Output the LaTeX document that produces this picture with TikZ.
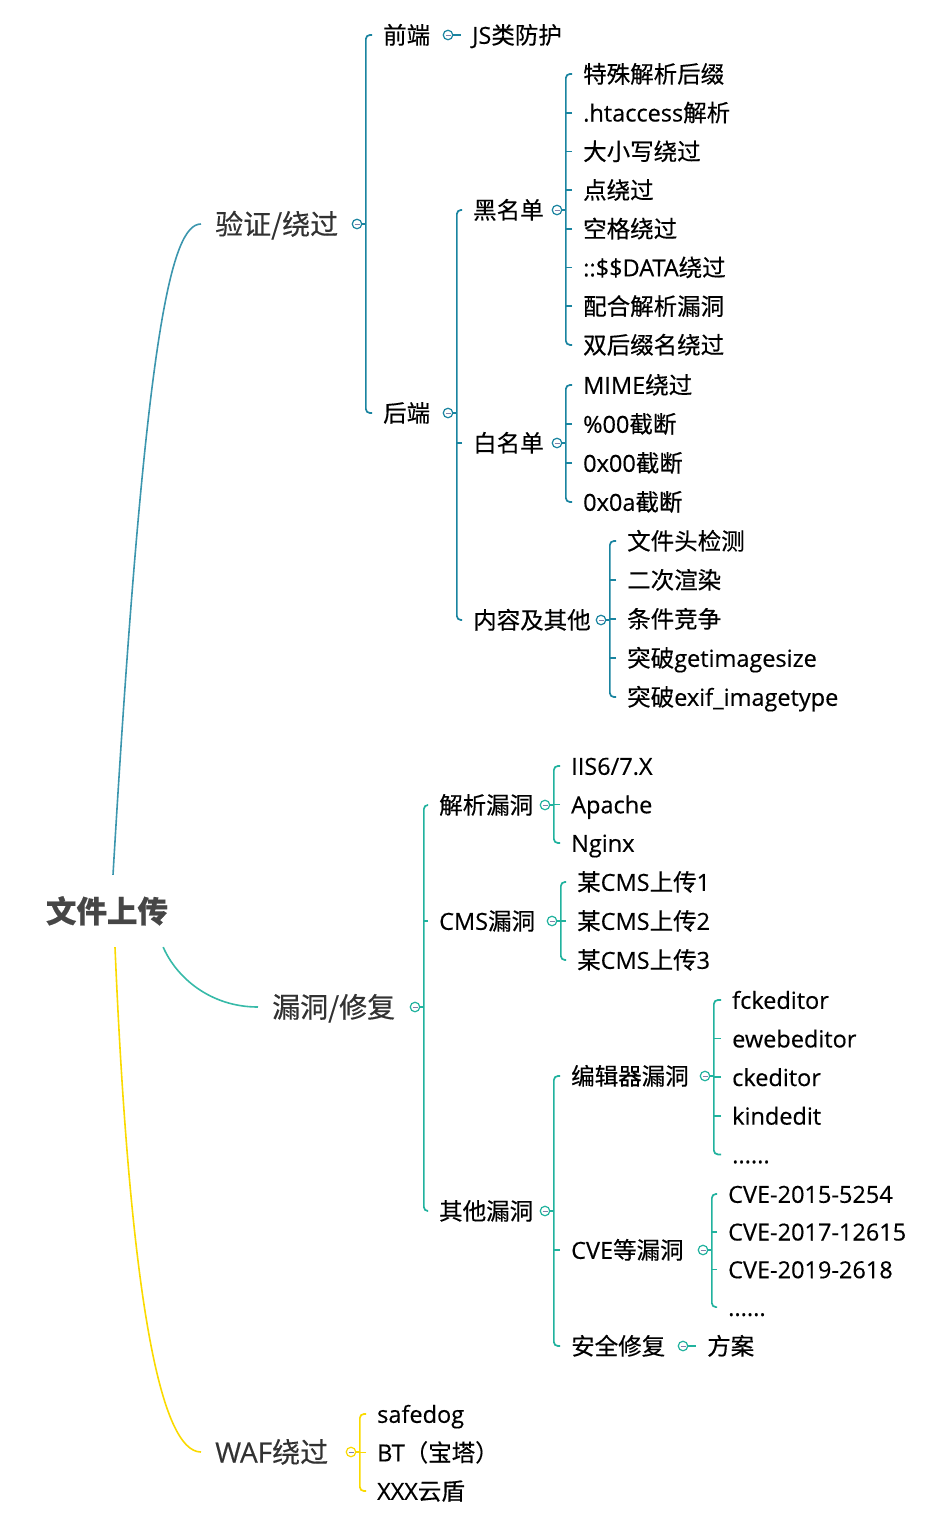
\documentclass[tikz,border=0pt]{standalone}
\usepackage{fontspec}
\setmainfont{Noto Sans CJK SC}[FakeBold=0.4]
\newfontfamily\enfont{Open Sans}[FakeBold=0.4]
\newcommand\eng[1]{{\enfont #1}}
\usepackage{xcolor}
\usepackage{tikz}

\definecolor{blueline}{RGB}{26,132,160}
\definecolor{tealline}{RGB}{33,178,158}
\definecolor{yellowline}{RGB}{250,218,0}
\definecolor{topicgray}{RGB}{50,50,50}
\definecolor{rootgray}{RGB}{70,70,70}
\definecolor{knobminus}{RGB}{128,128,170}

\tikzset{
  topic/.style={anchor=west, inner xsep=14pt, inner ysep=0pt, text height=25pt, text depth=4pt,
    font=\fontsize{28}{33}\selectfont, text=topicgray},
  leaf/.style={anchor=west, inner xsep=11pt, inner ysep=0pt, text height=21pt, text depth=3.4pt,
    font=\fontsize{23.5}{28}\selectfont, text=black},
  knob/.style={circle, draw=#1, fill=white, line width=1.2pt, minimum size=9.5pt, inner sep=0pt,
    path picture={\draw[knobminus, line width=1pt] ([xshift=-2.5pt]path picture bounding box.center) -- ([xshift=2.5pt]path picture bounding box.center);}},
  br/.style={draw=#1, line width=1.7pt, rounded corners=4pt},
  curve/.style={draw=#1, line width=1.6pt},
}

\begin{document}
\begin{tikzpicture}[x=1pt,y=-1pt]
\useasboundingbox (0,0) rectangle (935,1526);

\node[font=\fontsize{30.5}{36}\selectfont\bfseries, text=rootgray, inner xsep=0pt, inner ysep=20pt,
  text height=27.5pt, text depth=4.3pt] (root) at (107,911) {文件上传};
\node[topic] (t1) at (201,224) {验证/绕过};
\node[topic] (t2) at (258,1007) {漏洞/修复};
\node[topic] (t3) at (201,1452) {\eng{WAF}绕过};
\draw[curve=blueline!85] ([xshift=6]root.north) .. controls +(32,-543) and +(-30,0) .. (t1.west);
\draw[curve=tealline!90] ([xshift=-5]root.south east) .. controls +(13,30) and +(-48,0) .. (t2.west);
\draw[curve=yellowline] ([xshift=8]root.south) .. controls +(15,355) and +(-40,0) .. (t3.west);

% 验证/绕过
\node[knob=blueline] (k1) at (357,224) {};
\coordinate (s1) at ([xshift=3.5]k1.east);
\node[leaf] (front) at (372,35) {前端};
\node[leaf] (back) at (372,413) {后端};
\draw[br=blueline] (k1.east) -- (s1);
\draw[br=blueline] (front.west) -| (s1) |- (back.west);

\node[knob=blueline] (kfront) at (448,35) {};
\node[leaf] (js) at (461,35) {\eng{JS}类防护};
\draw[br=blueline] (kfront.east) -- (js.west);

\node[knob=blueline] (kback) at (448,413) {};
\coordinate (sback) at ([xshift=3.5]kback.east);
\node[leaf] (black) at (462,210) {黑名单};
\node[leaf] (white) at (462,443) {白名单};
\node[leaf] (other) at (462,620) {内容及其他};
\draw[br=blueline] (kback.east) -- (sback);
\draw[br=blueline] (black.west) -| (sback) |- (other.west);
\draw[br=blueline] (white.west) -- (sback |- white.west);

\node[knob=blueline] (kblack) at (557,210) {};
\coordinate (sblack) at ([xshift=3.5]kblack.east);
\foreach \txt [count=\i] in {特殊解析后缀, {\eng{.htaccess}解析}, 大小写绕过, 点绕过, 空格绕过,
    {\eng{::\$\$DATA}绕过}, 配合解析漏洞, 双后缀名绕过}
  \node[leaf] (bl\i) at (572,35.3+38.7*\i) {\txt};
\draw[br=blueline] (kblack.east) -- (sblack);
\draw[br=blueline] (bl1.west) -| (sblack) |- (bl8.west);
\foreach \i in {2,...,7} \draw[br=blueline] (bl\i.west) -- (sblack |- bl\i.west);

\node[knob=blueline] (kwhite) at (557,443) {};
\coordinate (swhite) at ([xshift=3.5]kwhite.east);
\foreach \txt [count=\i] in {{\eng{MIME}绕过}, {\eng{\%00}截断}, {\eng{0x00}截断}, {\eng{0x0a}截断}}
  \node[leaf] (wl\i) at (572,346+39*\i) {\txt};
\draw[br=blueline] (kwhite.east) -- (swhite);
\draw[br=blueline] (wl1.west) -| (swhite) |- (wl4.west);
\foreach \i in {2,3} \draw[br=blueline] (wl\i.west) -- (swhite |- wl\i.west);

\node[knob=blueline] (kother) at (601,620) {};
\coordinate (sother) at ([xshift=3.5]kother.east);
\foreach \txt [count=\i] in {文件头检测, 二次渲染, 条件竞争, {突破\eng{getimagesize}}, {突破\eng{exif\_imagetype}}}
  \node[leaf] (ol\i) at (616,502+39*\i) {\txt};
\draw[br=blueline] (kother.east) -- (sother);
\draw[br=blueline] (ol1.west) -| (sother) |- (ol5.west);
\foreach \i in {2,3,4} \draw[br=blueline] (ol\i.west) -- (sother |- ol\i.west);

% 漏洞/修复
\node[knob=tealline] (k2) at (415,1007) {};
\coordinate (s2) at ([xshift=3.5]k2.east);
\node[leaf] (parse) at (428,805) {解析漏洞};
\node[leaf] (cms) at (428,921) {\eng{CMS}漏洞};
\node[leaf] (misc) at (428,1211) {其他漏洞};
\draw[br=tealline] (k2.east) -- (s2);
\draw[br=tealline] (parse.west) -| (s2) |- (misc.west);
\draw[br=tealline] (cms.west) -- (s2 |- cms.west);

\node[knob=tealline] (kparse) at (545,805) {};
\coordinate (sparse) at ([xshift=3.5]kparse.east);
\foreach \txt [count=\i] in {{\eng{IIS6/7.X}}, {\eng{Apache}}, {\eng{Nginx}}}
  \node[leaf] (pl\i) at (560,727.5+38.5*\i) {\txt};
\draw[br=tealline] (kparse.east) -- (sparse);
\draw[br=tealline] (pl1.west) -| (sparse) |- (pl3.west);
\draw[br=tealline] (pl2.west) -- (sparse |- pl2.west);

\node[knob=tealline] (kcms) at (552,921) {};
\coordinate (scms) at ([xshift=3.5]kcms.east);
\foreach \i in {1,2,3}
  \node[leaf] (cl\i) at (566,843+39*\i) {某\eng{CMS}上传\eng{\i}};
\draw[br=tealline] (kcms.east) -- (scms);
\draw[br=tealline] (cl1.west) -| (scms) |- (cl3.west);
\draw[br=tealline] (cl2.west) -- (scms |- cl2.west);

\node[knob=tealline] (kmisc) at (545,1211) {};
\coordinate (smisc) at ([xshift=3.5]kmisc.east);
\node[leaf] (editor) at (560,1076) {编辑器漏洞};
\node[leaf] (cve) at (560,1250) {\eng{CVE}等漏洞};
\node[leaf] (fix) at (560,1346) {安全修复};
\draw[br=tealline] (kmisc.east) -- (smisc);
\draw[br=tealline] (editor.west) -| (smisc) |- (fix.west);
\draw[br=tealline] (cve.west) -- (smisc |- cve.west);

\node[knob=tealline] (keditor) at (705,1076) {};
\coordinate (seditor) at ([xshift=3.5]keditor.east);
\foreach \txt [count=\i] in {{fckeditor}, {ewebeditor}, {ckeditor}, {kindedit}, {{......}}}
  \node[leaf] (el\i) at (721,961.4+38.6*\i) {\eng{\txt}};
\draw[br=tealline] (keditor.east) -- (seditor);
\draw[br=tealline] (el1.west) -| (seditor) |- (el5.west);
\foreach \i in {2,3,4} \draw[br=tealline] (el\i.west) -- (seditor |- el\i.west);

\node[knob=tealline] (kcve) at (703,1250) {};
\coordinate (scve) at ([xshift=3.5]kcve.east);
\foreach \txt [count=\i] in {{CVE-2015-5254}, {CVE-2017-12615}, {CVE-2019-2618}, {{......}}}
  \node[leaf] (vl\i) at (717,1156.3+37.7*\i) {\eng{\txt}};
\draw[br=tealline] (kcve.east) -- (scve);
\draw[br=tealline] (vl1.west) -| (scve) |- (vl4.west);
\foreach \i in {2,3} \draw[br=tealline] (vl\i.west) -- (scve |- vl\i.west);

\node[knob=tealline] (kfix) at (683,1346) {};
\node[leaf] (plan) at (696,1346) {方案};
\draw[br=tealline] (kfix.east) -- (plan.west);

% WAF绕过
\node[knob=yellowline] (k3) at (351,1452) {};
\coordinate (s3) at ([xshift=3.5]k3.east);
\foreach \txt [count=\i] in {{\eng{safedog}}, {\eng{BT}（宝塔）}, {\eng{XXX}云盾}}
  \node[leaf] (wf\i) at (366,1375.5+38.5*\i) {\txt};
\draw[br=yellowline] (k3.east) -- (s3);
\draw[br=yellowline] (wf1.west) -| (s3) |- (wf3.west);
\draw[br=yellowline] (wf2.west) -- (s3 |- wf2.west);
\end{tikzpicture}
\end{document}
